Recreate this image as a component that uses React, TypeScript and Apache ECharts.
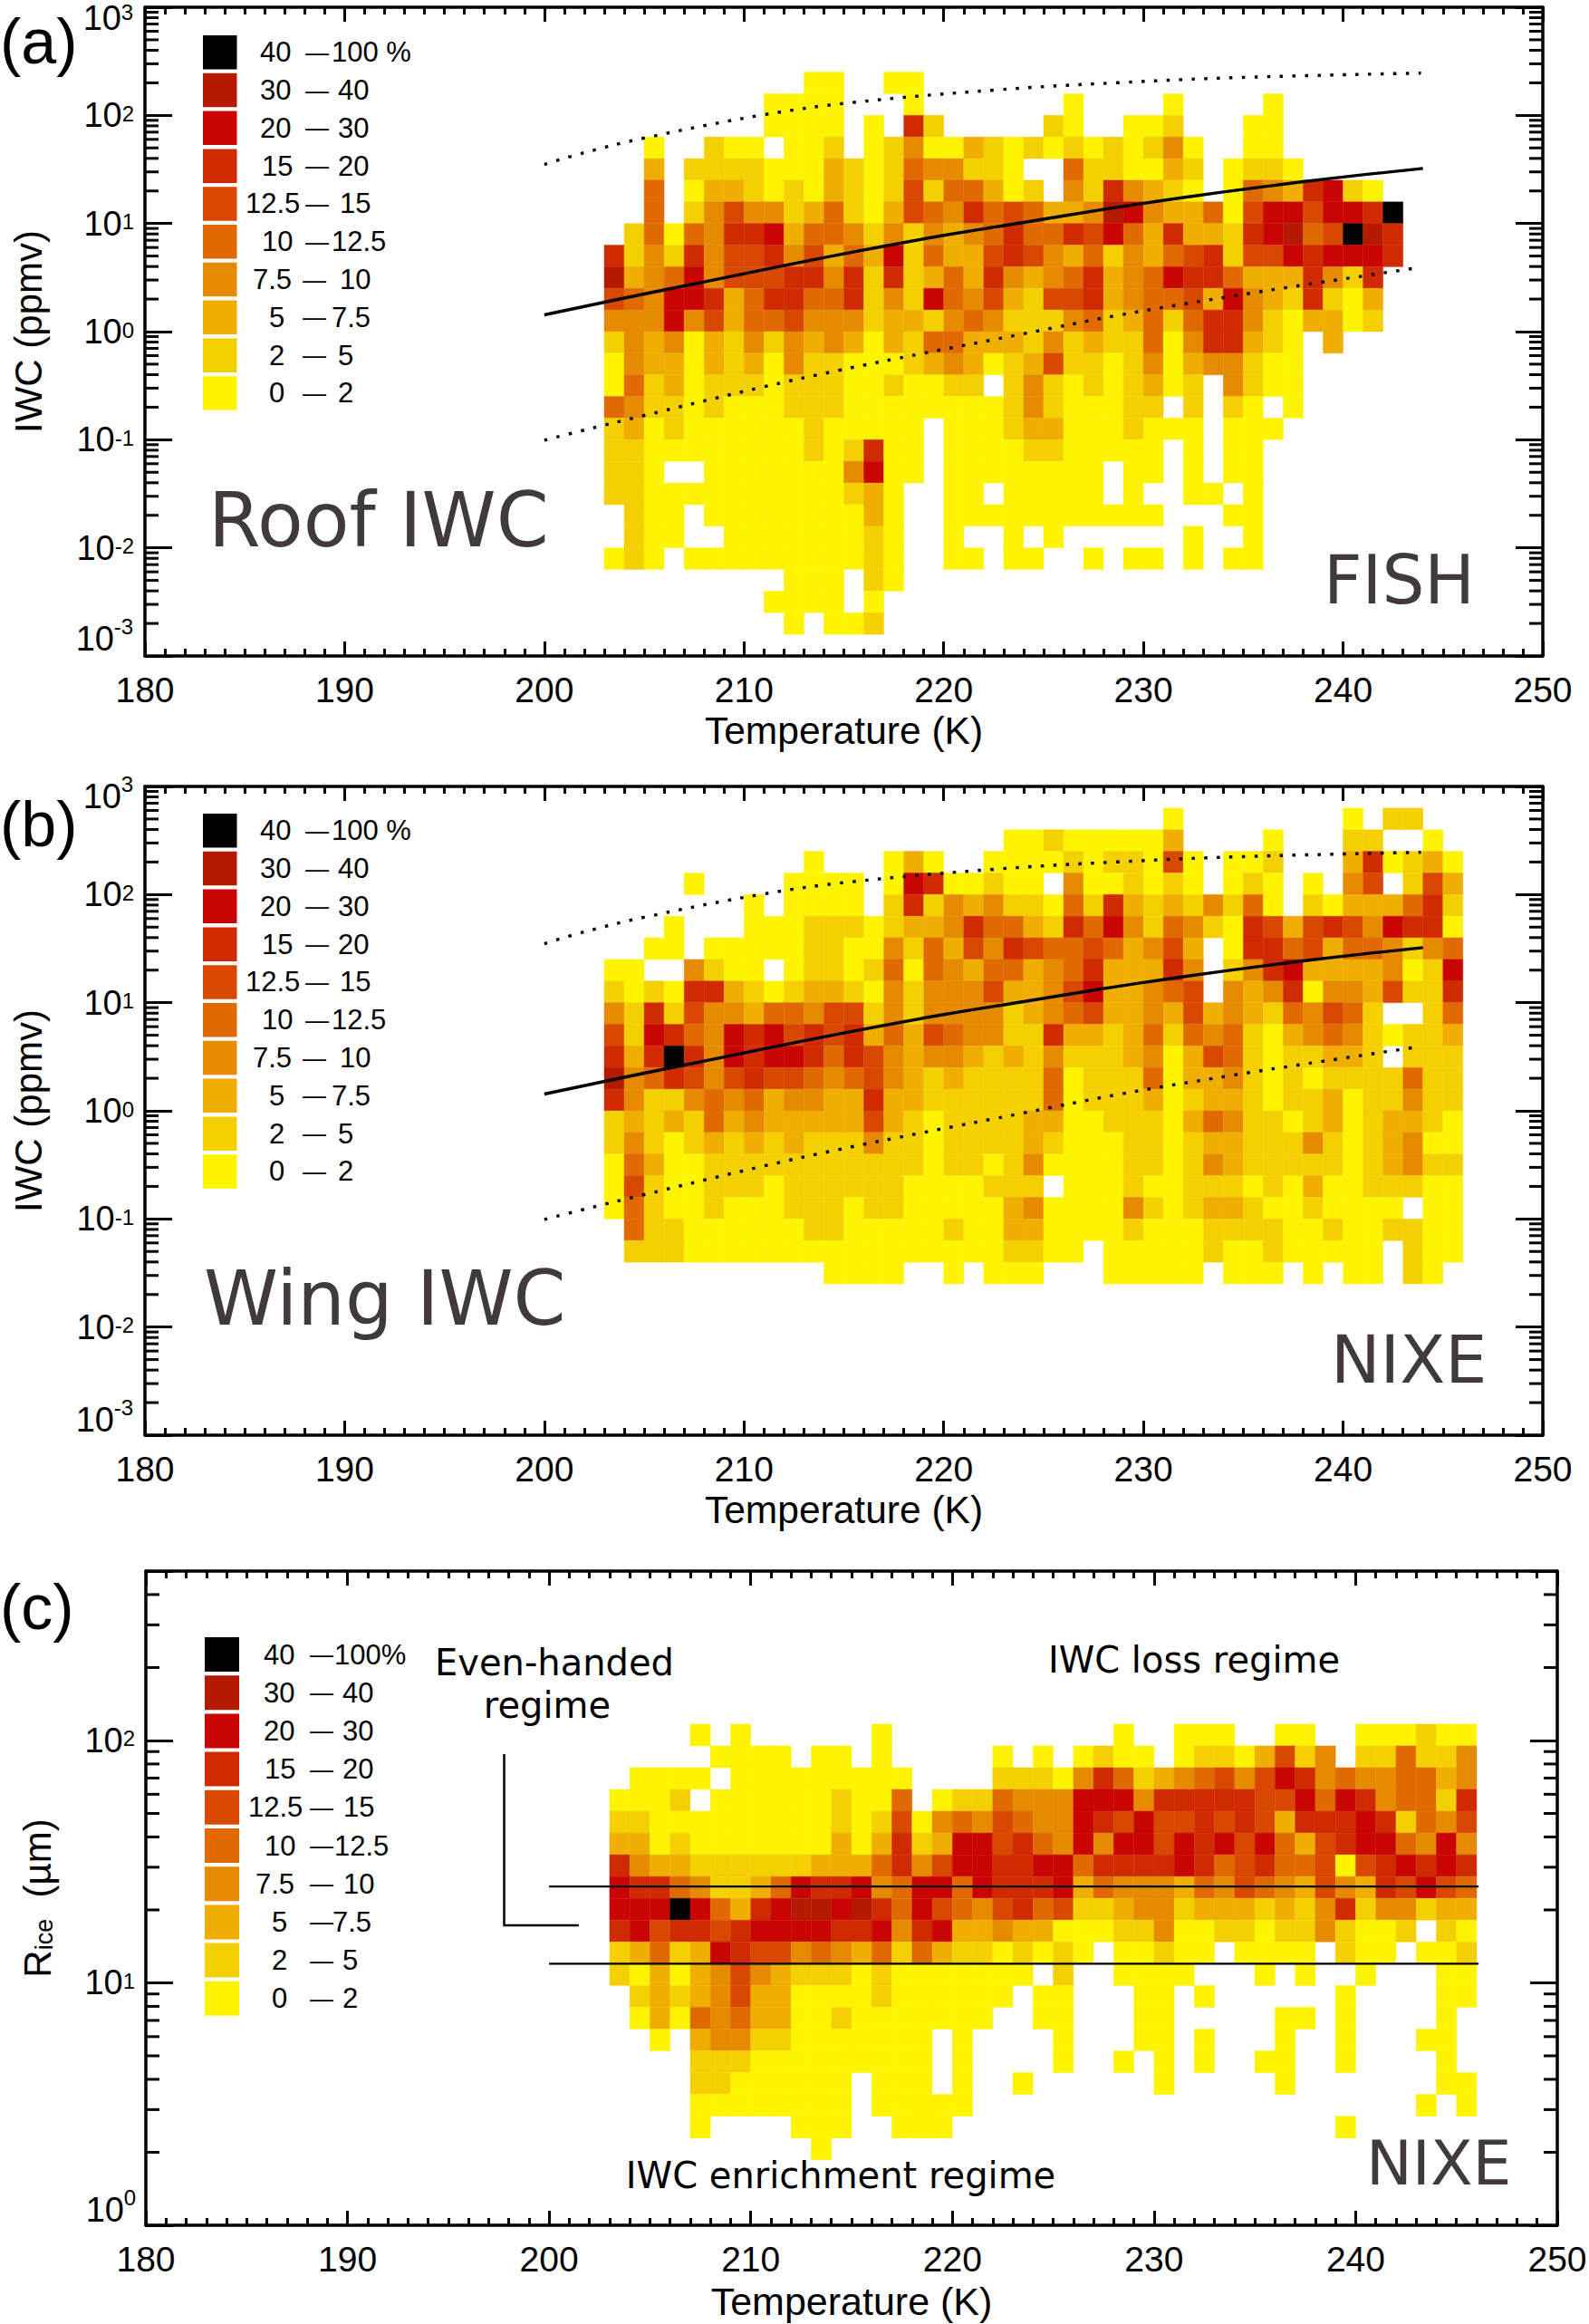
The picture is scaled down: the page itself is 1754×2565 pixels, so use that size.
import React, { useEffect, useRef } from "react";
import * as echarts from "echarts";

// Percent classes, from 0 (0-2 %) to 9 (40-100 %). "." is an empty bin.
const classColors = ["#FFF400", "#F5D000", "#F0AE00", "#E68A00", "#E06A00", "#D84800", "#D02A00", "#C80500", "#B51A00", "#000000"];
const legendLow = ["40", "30", "20", "15", "12.5", "10", "7.5", "5", "2", "0"];
const legendHigh = ["100 %", "40", "30", "20", "15", "12.5", "10", "7.5", "5", "2"];
const legendHighC = ["100%", "40", "30", "20", "15", "12.5", "10", "7.5", "5", "2"];

const firstTemperature = 203;

// Rows run from the top of each panel; columns from 203 K in 1 K bins.
const roofTopLog = 2.4;
const roofStep = 0.2;
const roofRows = [
  "..... ..... 00..0 0....",
  "..... ...00 00... 0.... ...0. ...0. ...0.",
  "..... ...00 00.0. 61... ..10. .001. ..00.",
  "..0.. 100.0 01.01 30021 01010 10130 ..00.",
  "..2.1 11100 02101 43311 0..41 10021 .0110",
  "..4.0 22101 02101 51442 01.31 63210 .0432 6710.",
  "..4.1 35331 24102 54364 54223 87322 40577 57769",
  ".1404 36672 44313 13234 64465 74262 21678 45986",
  "61316 35563 52427 14225 65324 13245 61557 67776",
  "82347 35556 63616 12426 32346 23476 64222 6316.",
  "54377 62466 44613 17435 21556 23445 27321 6102.",
  "33373 52445 33312 21343 11134 12414 66310 2201.",
  "13230 21313 23202 14422 21312 11403 66210 .2...",
  "03220 21203 11000 12320 12511 01302 33100",
  "04120 11101 11001 0011. 13101 01201 .3100",
  "43110 10001 11000 00000 13100 011.1 .10.0",
  "12010 00000 10000 0.000 12200 01000 .000.",
  "11000 00000 10160 0.000 01100 000.0 .00..",
  "110.. 00000 00370 0.000 00000 .00.0 .00..",
  "11000 00000 00120 ..00. 00000 .0..0 0.0..",
  ".100. 00000 00020 ..000 00000 000.. .00..",
  ".100. .0000 00010 ..0.. 0.0.. ....0 ..0..",
  "010.0 00000 00010 ..00. 00..0 .00.0 .00..",
  "..... ....0 00.10",
  "..... ...00 00.0.",
  "..... ....0 .001.",
];

const wingTopLog = 2.8;
const wingStep = 0.2;
const wingRows = [
  "..... ..... ..... ..... ..... ...0. ..... ..0.1 1..",
  "..... ..... ..... ..... 00100 0002. ...0. ..11. .0.",
  "..... ..... 0...0 20..0 00010 11050 .001. ..260 120",
  "....0 ....0 000.0 76001 00.30 01010 .010. 0.35. 152",
  "..... ..0.0 000.1 61323 11041 62121 3140. 10222 461",
  "...0. ..000 11101 22364 42164 73143 10652 56537 660",
  "..00. 00000 11003 14253 65445 42352 .0664 52443 134",
  "00..3 100.0 11014 04324 42346 22263 .1367 22223 017",
  "10106 62101 22103 13335 22357 22345 .3236 03325 116",
  "31615 33244 35513 13333 12345 22325 23214 3541. .14",
  "51764 37675 65624 25433 11622 12414 34102 34310 112",
  "62696 37677 64653 23321 21311 12302 54101 1221. 111",
  "83465 35655 43453 21211 11401 11402 23101 01111 411",
  "63113 43423 32262 21111 11401 11201 22101 12011 311",
  "12121 42322 22252 10111 12200 11102 43110 12012 210",
  "13101 21212 11131 10111 12100 01101 22111 31012 300",
  "04200 11111 11111 10110 13000 01101 32111 11012 311",
  "05100 11101 11111 00001 11.00 01001 11010 20011 100",
  "04100 10001 11011 00000 23000 03101 22100 10000 .00",
  ".4110 00000 11000 00100 22000 01000 11110 01001 100",
  ".1110 00000 00000 00000 1100. 00000 10010 0000. 100",
  "..... ..... .0000 ..0.0 00... 00000 .000. 0.00. 10.",
];

const riceTopLog = 2.0676;
const riceStep = 0.08987;
const riceRows = [
  "....0 .0... ...0. ..... ..... 0..00 0..00 ..000 100",
  "..... 0000. 00.0. ....0 .0.01 00.01 10251 3.114 113",
  ".0000 .0000 00000 ....1 11036 41234 53576 34334 423",
  "0001. 00000 01004 .0114 33377 73666 66557 47634 416",
  "11000 00000 01015 03435 43376 57556 56526 66761 435",
  "22010 00000 02026 12775 64373 77576 75742 56774 373",
  "63221 11111 22246 35776 67746 66676 45644 50567 676",
  "76643 11247 66734 77476 66724 33324 35432 53265 754",
  "77797 42678 87864 75435 64511 23312 22121 36133 122",
  "67566 56777 76673 67223 22000 11300 11011 31001 .10",
  "12412 76553 43241 42110 1010. 00100 .0000 .100. 001",
  "10202 35321 11010 00000 0.1.. 0000. ..0.0 ..0.. .00",
  ".1212 35220 00010 00000 .00.. .00.0 ..... .0... .00",
  ".0204 34220 01000 0000. .00.. .00.. ...00 .0... .0.",
  "..0.2 33110 00000 0.0.. ..0.. .00.0 ...0. .0... 00.",
  "....1 11000 00000 0.0.. ..0.. 0.0.0 ..00. .0... .0.",
  "....1 10000 00.00 0.0.. 0.... ..0.. ...0. ..... .00",
  "....0 00000 00.00 000.. ..... ..... ..... ..... 0.0",
  "....0 ....0 00..0 00... ..... ..... ..... .0...",
  "..... ..... 0....",
];

// Core line and its upper and lower limits: temperature and log10(IWC).
const coreT = [200, 204, 208, 212, 216, 220, 224, 228, 232, 236, 240, 244];
const coreLog = [0.155, 0.31, 0.46, 0.61, 0.755, 0.89, 1.01, 1.13, 1.24, 1.34, 1.43, 1.509];
const upperT = [200, 202, 205, 211, 215.4, 222.6, 228.7, 234.8, 243.9];
const upperLog = [1.546, 1.655, 1.79, 2.006, 2.118, 2.235, 2.302, 2.35, 2.391];
const lowerT = [200, 201.8, 204.9, 211, 214.7, 219, 224, 228.7, 234.5, 238.2, 243.9];
const lowerLog = [-1.005, -0.92, -0.78, -0.51, -0.36, -0.2, -0.02, 0.15, 0.33, 0.436, 0.595];
const regimeEdges = [25, 12];
const regimeT = [200, 246.1];

const sans = "Liberation Sans";
const deja = "DejaVu Sans";

function cellsFrom(rows: string[], topLog: number, step: number) {
  const out: number[][] = [];
  rows.forEach((raw, r) => {
    const row = raw.replace(/ /g, "");
    for (let i = 0; i < row.length; i++) {
      if (row[i] === ".") continue;
      const t = firstTemperature + i;
      out.push([t, t + 1, Math.pow(10, topLog - step * (r + 1)), Math.pow(10, topLog - step * r), Number(row[i])]);
    }
  });
  return out;
}

const renderCell = (_: any, api: any) => {
  const a = api.coord([api.value(0), api.value(3)]);
  const b = api.coord([api.value(1), api.value(2)]);
  const color = classColors[api.value(4)];
  return {
    type: "rect",
    shape: { x: a[0], y: a[1], width: b[0] - a[0], height: b[1] - a[1] },
    style: { fill: color, stroke: color, lineWidth: 0.4 },
  };
};

const renderMinorTick = (params: any, api: any) => {
  const p = api.coord([180, api.value(0)]);
  const left = params.coordSys.x;
  const right = left + params.coordSys.width;
  const st = { stroke: "#000", lineWidth: 3 };
  return {
    type: "group",
    children: [
      { type: "line", shape: { x1: left, y1: p[1], x2: left + 15, y2: p[1] }, style: st },
      { type: "line", shape: { x1: right, y1: p[1], x2: right - 15, y2: p[1] }, style: st },
    ],
  };
};

function minorValues(fromExp: number, toExp: number, maxValue: number) {
  const v: number[][] = [];
  for (let e = fromExp; e < toExp; e++) {
    for (let m = 2; m <= 9; m++) {
      const x = m * Math.pow(10, e);
      if (x < maxValue) v.push([x]);
    }
  }
  return v;
}

const labelRich = {
  a: { fontFamily: sans, fontSize: 38, lineHeight: 36, padding: [12, 0, 12, 0], color: "#000" },
  s: { fontFamily: sans, fontSize: 24, lineHeight: 23, verticalAlign: "top", padding: [4, 0, 0, 0], color: "#000" },
};

// The labels at the ends of an axis sit inside the frame and are placed apart.
function expLabel(topExp: number, bottomExp: number) {
  return (v: number) => {
    const e = Math.round(Math.log10(v));
    if (Math.abs(Math.log10(v) - e) > 1e-6) return "";
    if (e === topExp || e === bottomExp) return "";
    return `{a|10}{s|${e}}`;
  };
}

type Panel = {
  left: number; top: number; width: number; height: number;
  yMin: number; yMax: number; topExp: number; bottomExp: number;
  name: string; nameRich?: any; nameGap: number; xNameSize: number; xNameGap: number;
  cells: number[][]; minor: number[][]; lines: any[];
};

function iwcLines(p: number) {
  const mk = (ts: number[], ls: number[], type: any, width: number) => ({
    type: "line", xAxisIndex: p, yAxisIndex: p, z: 6, smooth: 0.4, showSymbol: false, symbol: "none", silent: true,
    data: ts.map((t, i) => [t, Math.pow(10, ls[i])]),
    lineStyle: { color: "#000", width, type, cap: "butt" },
  });
  return [mk(coreT, coreLog, "solid", 3.4), mk(upperT, upperLog, [3.5, 10.4], 3.4), mk(lowerT, lowerLog, [3.5, 10.4], 3.4)];
}

function regimeLines(p: number) {
  return regimeEdges.map((r) => ({
    type: "line", xAxisIndex: p, yAxisIndex: p, z: 6, showSymbol: false, symbol: "none", silent: true,
    data: regimeT.map((t) => [t, r]),
    lineStyle: { color: "#000", width: 2.2 },
  }));
}

const panels: Panel[] = [
  {
    left: 160, top: 8, width: 1543, height: 716, yMin: 0.001, yMax: 1000, topExp: 3, bottomExp: -3,
    name: "IWC (ppmv)", nameGap: 108, xNameSize: 42.5, xNameGap: 61,
    cells: cellsFrom(roofRows, roofTopLog, roofStep), minor: minorValues(-3, 3, 1000), lines: iwcLines(0),
  },
  {
    left: 160, top: 868, width: 1543, height: 716, yMin: 0.001, yMax: 1000, topExp: 3, bottomExp: -3,
    name: "IWC (ppmv)", nameGap: 108, xNameSize: 42.5, xNameGap: 61,
    cells: cellsFrom(wingRows, wingTopLog, wingStep), minor: minorValues(-3, 3, 1000), lines: iwcLines(1),
  },
  {
    left: 161, top: 1734, width: 1558, height: 722, yMin: 1, yMax: 500, topExp: 99, bottomExp: 0,
    name: "{r|R}{i|ice}{r|  (\u00b5m)}", nameGap: 99, xNameSize: 43, xNameGap: 62,
    nameRich: {
      r: { fontFamily: sans, fontSize: 42, color: "#000" },
      i: { fontFamily: sans, fontSize: 27, color: "#000", verticalAlign: "bottom", padding: [14, 0, 0, 0] },
    },
    cells: cellsFrom(riceRows, riceTopLog, riceStep), minor: minorValues(0, 3, 500), lines: regimeLines(2),
  },
];

const axisBase = {
  axisLine: { show: true, onZero: false, lineStyle: { color: "#000", width: 3.5 } },
  splitLine: { show: false },
};

function buildAxes() {
  const xAxis: any[] = [];
  const yAxis: any[] = [];
  const grid: any[] = [];
  panels.forEach((p, idx) => {
    grid.push({ left: p.left, top: p.top, width: p.width, height: p.height, containLabel: false, outerBoundsMode: "none", show: false });
    const xCommon = {
      ...axisBase, type: "value", min: 180, max: 250, interval: 10, gridIndex: idx,
      axisTick: { show: true, inside: true, length: 16, lineStyle: { color: "#000", width: 3 } },
      minorTick: { show: true, splitNumber: 10, length: 8, lineStyle: { color: "#000", width: 3 } },
      minorSplitLine: { show: false },
    };
    xAxis.push({
      ...xCommon, position: "bottom",
      axisLabel: { show: true, margin: 18, fontFamily: sans, fontSize: 39, color: "#000", hideOverlap: false, showMinLabel: true, showMaxLabel: true },
      name: "Temperature (K)", nameLocation: "middle", nameGap: p.xNameGap,
      nameTextStyle: { fontFamily: sans, fontSize: p.xNameSize, color: "#000" },
    });
    xAxis.push({ ...xCommon, position: "top", axisLabel: { show: false } });
    const yCommon = {
      ...axisBase, type: "log", logBase: 10, min: p.yMin, max: p.yMax, gridIndex: idx,
      axisTick: { show: true, inside: true, length: 30, lineStyle: { color: "#000", width: 3 } },
      minorTick: { show: false },
    };
    yAxis.push({
      ...yCommon, position: "left",
      axisLabel: {
        show: true, margin: 12, formatter: expLabel(p.topExp, p.bottomExp), rich: labelRich, hideOverlap: false,
        showMinLabel: true, showMaxLabel: true,
      },
      name: p.name, nameLocation: "middle", nameGap: p.nameGap, nameRotate: 90,
      nameTextStyle: { fontFamily: sans, fontSize: 42, color: "#000", rich: p.nameRich },
    });
    yAxis.push({ ...yCommon, position: "right", axisLabel: { show: false } });
  });
  return { xAxis, yAxis, grid };
}

function buildSeries() {
  const series: any[] = [];
  panels.forEach((p, idx) => {
    series.push({
      type: "custom", xAxisIndex: idx * 2, yAxisIndex: idx * 2, z: 2, silent: true, clip: true,
      renderItem: renderCell, data: p.cells, encode: { x: [0, 1], y: [2, 3] },
    });
    series.push({
      type: "custom", xAxisIndex: idx * 2, yAxisIndex: idx * 2, z: 7, silent: true, clip: false,
      renderItem: renderMinorTick, data: p.minor.map((m) => [m[0]]), encode: { y: 0 },
    });
    p.lines.forEach((l) => series.push({ ...l, xAxisIndex: idx * 2, yAxisIndex: idx * 2 }));
  });
  return series;
}

const legendLeftA = [287, 287, 287, 289, 271, 289, 279, 297, 297, 297];
const legendDashA = [337, 337, 337, 337, 337, 337, 334, 334, 334, 334];
const legendRightA = [366, 373, 373, 373, 375, 366, 375, 366, 373, 373];
const legendLeftC = [291, 291, 291, 292, 274, 292, 282, 300, 300, 300];
const legendDashC = [342, 342, 342, 342, 342, 342, 342, 342, 342, 342];
const legendRightC = [369, 378, 378, 378, 379, 369, 379, 367, 378, 378];

function legendElements(y0: number, sqX: number, size: number, pitch: number, ls: number[], ds: number[], rs: number[], high: string[]) {
  const els: any[] = [];
  legendLow.forEach((low, i) => {
    const y = y0 + i * pitch;
    const mid = y + size / 2;
    const ts = { fontFamily: sans, fontSize: 31, fill: "#000", textVerticalAlign: "middle", textAlign: "left" };
    els.push({ type: "rect", shape: { x: sqX, y, width: size, height: size }, style: { fill: classColors[9 - i] } });
    els.push({ type: "text", style: { ...ts, text: low, x: ls[i], y: mid } });
    els.push({ type: "text", style: { ...ts, fontSize: 26, text: "\u2014", x: ds[i], y: mid } });
    els.push({ type: "text", style: { ...ts, text: high[i], x: rs[i], y: mid } });
  });
  return els;
}

function txt(text: string, x: number, y: number, size: number, family: string, fill: string, align = "left") {
  return { type: "text", style: { text, x, y, fontFamily: family, fontSize: size, fill, textAlign: align, textVerticalAlign: "bottom" } };
}

function endLabel(exp: string, right: number, mid: number, supWidth: number, supRise = 14) {
  const common = { fontFamily: sans, fill: "#000", textVerticalAlign: "middle", textAlign: "right" };
  return [
    { type: "text", style: { ...common, text: "10", x: right - supWidth, y: mid, fontSize: 38 } },
    { type: "text", style: { ...common, text: exp, x: right, y: mid - supRise, fontSize: 24 } },
  ];
}

const dark = "#403A3A";
const annotations = [
  txt("(a)", 0, 81, 70, sans, "#000"),
  txt("(b)", 0, 945, 70, sans, "#000"),
  txt("(c)", 0, 1809, 70, sans, "#000"),
  txt("Roof IWC", 230, 616, 83, deja, dark),
  txt("FISH", 1461, 677, 74, deja, dark),
  txt("Wing IWC", 225, 1475, 83, deja, dark),
  txt("NIXE", 1469, 1537, 73, deja, dark),
  txt("NIXE", 1508, 2421, 68, deja, dark),
  txt("Even-handed", 612, 1855, 40, deja, "#000", "center"),
  txt("regime", 604, 1902, 40, deja, "#000", "center"),
  txt("IWC loss regime", 1318, 1852, 40, deja, "#000", "center"),
  txt("IWC enrichment regime", 928, 2421, 40, deja, "#000", "center"),
  ...endLabel("3", 147, 20, 13, 7),
  ...endLabel("-3", 147, 705, 21),
  ...endLabel("3", 147, 879, 13),
  ...endLabel("-3", 147, 1567, 21),
  ...endLabel("0", 150, 2439, 13),
];

export default function App() {
  const ref = useRef<HTMLDivElement>(null);
  useEffect(() => {
    const chart = echarts.init(ref.current!, undefined, { renderer: "svg" });
    const { xAxis, yAxis, grid } = buildAxes();
    chart.setOption({
      animation: false,
      backgroundColor: "#fff",
      grid,
      xAxis,
      yAxis,
      series: buildSeries(),
      graphic: [
        ...legendElements(39, 224, 37.5, 41.8, legendLeftA, legendDashA, legendRightA, legendHigh),
        ...legendElements(898, 224, 37.5, 41.8, legendLeftA, legendDashA, legendRightA, legendHigh),
        ...legendElements(1807, 226, 38, 42.2, legendLeftC, legendDashC, legendRightC, legendHighC),
        ...annotations,
        {
          type: "polyline",
          shape: { points: [[556.5, 1936], [556.5, 2125], [639, 2125]] },
          style: { stroke: "#000", lineWidth: 2.5, fill: "none" },
        },
      ],
    });
    return () => chart.dispose();
  }, []);
  return <div ref={ref} style={{ position: "absolute", left: 0, top: 0, width: 1754, height: 2565 }} />;
}
